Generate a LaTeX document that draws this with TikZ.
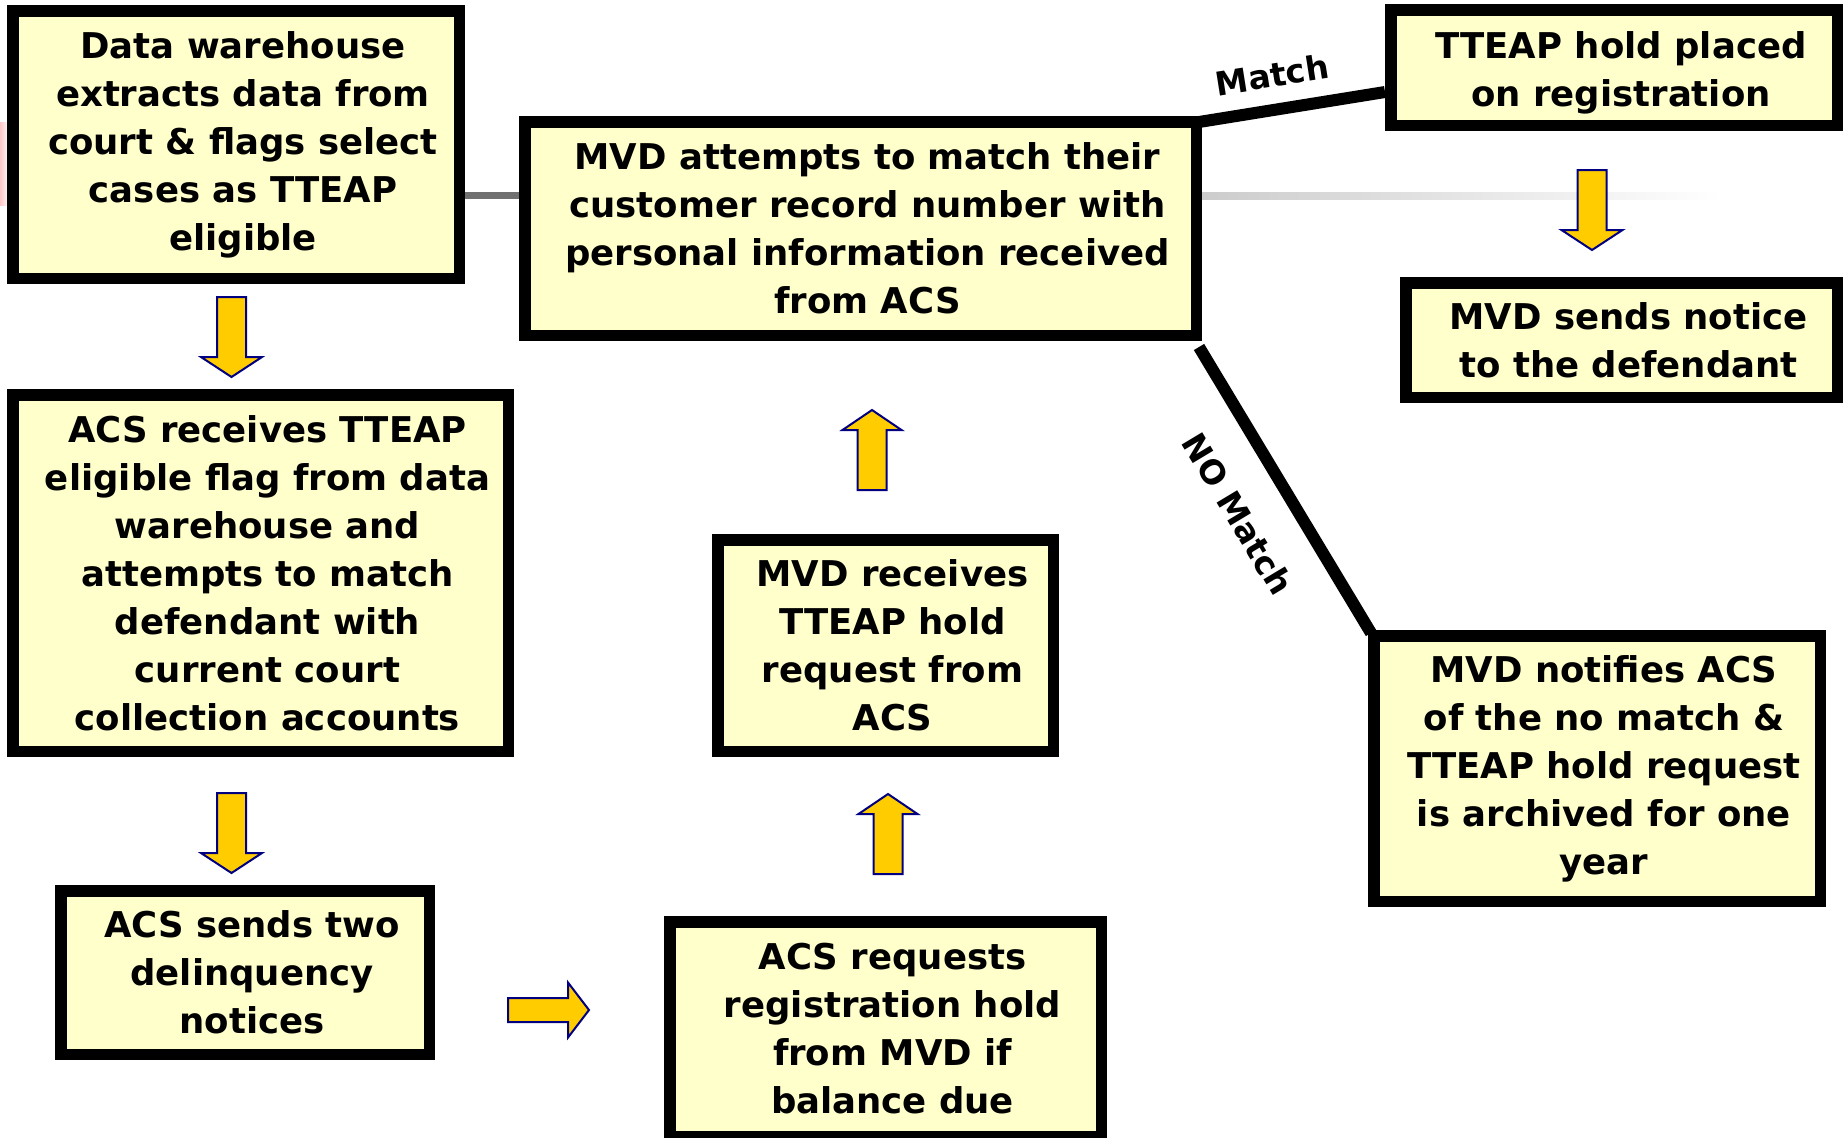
\documentclass[tikz,border=0pt]{standalone}
\usepackage{fontspec}
\setmainfont{DejaVu Sans}
\definecolor{boxfill}{HTML}{FFFFCC}
\definecolor{arrfill}{HTML}{FFCC00}
\definecolor{arrline}{HTML}{000080}
\definecolor{linkgray}{HTML}{707070}
\begin{document}
\begin{tikzpicture}[x=0.5pt,y=-0.5pt,
 box/.style={draw=black, line width=5.75pt, fill=boxfill, inner sep=0pt},
 boxtext/.style={align=center, inner sep=0pt, font=\bfseries\fontsize{17.75pt}{24pt}\selectfont},
 thicklink/.style={line width=6pt, black, line cap=butt},
 lbl/.style={font=\bfseries\fontsize{16.5pt}{20pt}\selectfont, inner sep=0pt},
 blockarrow/.style={fill=arrfill, draw=arrline, line width=1pt, line join=miter},
 darrow/.pic={\path[blockarrow] (-14.5,0) -- (14.5,0) -- (14.5,60) -- (30.5,60) -- (0,80) -- (-30.5,60) -- (-14.5,60) -- cycle;},
 uarrow/.pic={\path[blockarrow] (-14.5,0) -- (14.5,0) -- (14.5,-60) -- (29.5,-60) -- (0,-80) -- (-29.5,-60) -- (-14.5,-60) -- cycle;},
 rarrow/.pic={\path[blockarrow] (0,-12) -- (60,-12) -- (60,-27.5) -- (81,0) -- (60,27.5) -- (60,12) -- (0,12) -- cycle;}
]
\useasboundingbox (0,0) rectangle (1843,1137);
\fill[white] (0,0) rectangle (1843,1137);
\shade[left color=red!22, right color=white] (0,122) rectangle (9,205);

% boxes
\node[box, minimum width=223.25pt, minimum height=133.75pt] (dw) at (236,144.5) {};
\node[boxtext] (dwt) at ([xshift=3.5pt]dw.center)
  {Data warehouse\\extracts data from\\court \& flags select\\cases as TTEAP\\eligible};
\node[box, minimum width=335.75pt, minimum height=106.75pt] (att) at (860.5,228.5) {};
\node[boxtext] (attt) at ([xshift=3.5pt]att.center)
  {MVD attempts to match their\\customer record number with\\personal information received\\from ACS};
\node[box, minimum width=223.25pt, minimum height=57.75pt] (tteap) at (1614,67.5) {};
\node[boxtext] (tteapt) at ([xshift=3.5pt,yshift=-2.5pt]tteap.center)
  {TTEAP hold placed\\on registration};
\node[box, minimum width=215.75pt, minimum height=57.25pt] (notice) at (1621.5,340) {};
\node[boxtext] (noticet) at ([xshift=3.5pt]notice.center)
  {MVD sends notice\\to the defendant};
\node[box, minimum width=247.75pt, minimum height=178.25pt] (recv) at (260.5,573) {};
\node[boxtext] (recvt) at ([xshift=3.5pt]recv.center)
  {ACS receives TTEAP\\eligible flag from data\\warehouse and\\attempts to match\\defendant with\\current court\\collection accounts};
\node[box, minimum width=184.25pt, minimum height=81.75pt] (two) at (245,972.5) {};
\node[boxtext] (twot) at ([xshift=3.5pt]two.center)
  {ACS sends two\\delinquency\\notices};
\node[box, minimum width=215.75pt, minimum height=107.25pt] (req) at (885.5,1029) {};
\node[boxtext] (reqt) at ([xshift=3.5pt]req.center)
  {ACS requests\\registration hold\\from MVD if\\balance due};
\node[box, minimum width=167.75pt, minimum height=105.75pt] (mvdr) at (885.5,645.5) {};
\node[boxtext] (mvdrt) at ([xshift=3.5pt]mvdr.center)
  {MVD receives\\TTEAP hold\\request from\\ACS};
\node[box, minimum width=223.25pt, minimum height=132.75pt] (notif) at (1597,768.5) {};
\node[boxtext] (notift) at ([xshift=3.5pt]notif.center)
  {MVD notifies ACS\\of the no match \&\\TTEAP hold request\\is archived for one\\year};

% connectors
\draw[linkgray, line width=3.5pt] ([yshift=-25.25pt]dw.east) -- ([yshift=16.75pt]att.west);
\shade[left color=gray!40, right color=white] ([yshift=18.25pt]att.east) rectangle ++(520,7);
\draw[thicklink] ([xshift=-1.5pt,yshift=-3pt]att.north east) -- ([yshift=-12.25pt]tteap.west);
\draw[thicklink] ([xshift=-1.5pt,yshift=-3pt]att.south east) -- ([xshift=1.5pt,yshift=-1.5pt]notif.north west);
\node[lbl, rotate=9] (matchlbl) at (1272,75) {Match};
\node[lbl, rotate=-59] (nomatchlbl) at (1238,514) {NO Match};

% block arrows
\pic at (231.5,297) {darrow};
\pic at (231.5,793) {darrow};
\pic at (1592,170) {darrow};
\pic at (872,490) {uarrow};
\pic at (888,874) {uarrow};
\pic at (508,1010) {rarrow};
\end{tikzpicture}
\end{document}
